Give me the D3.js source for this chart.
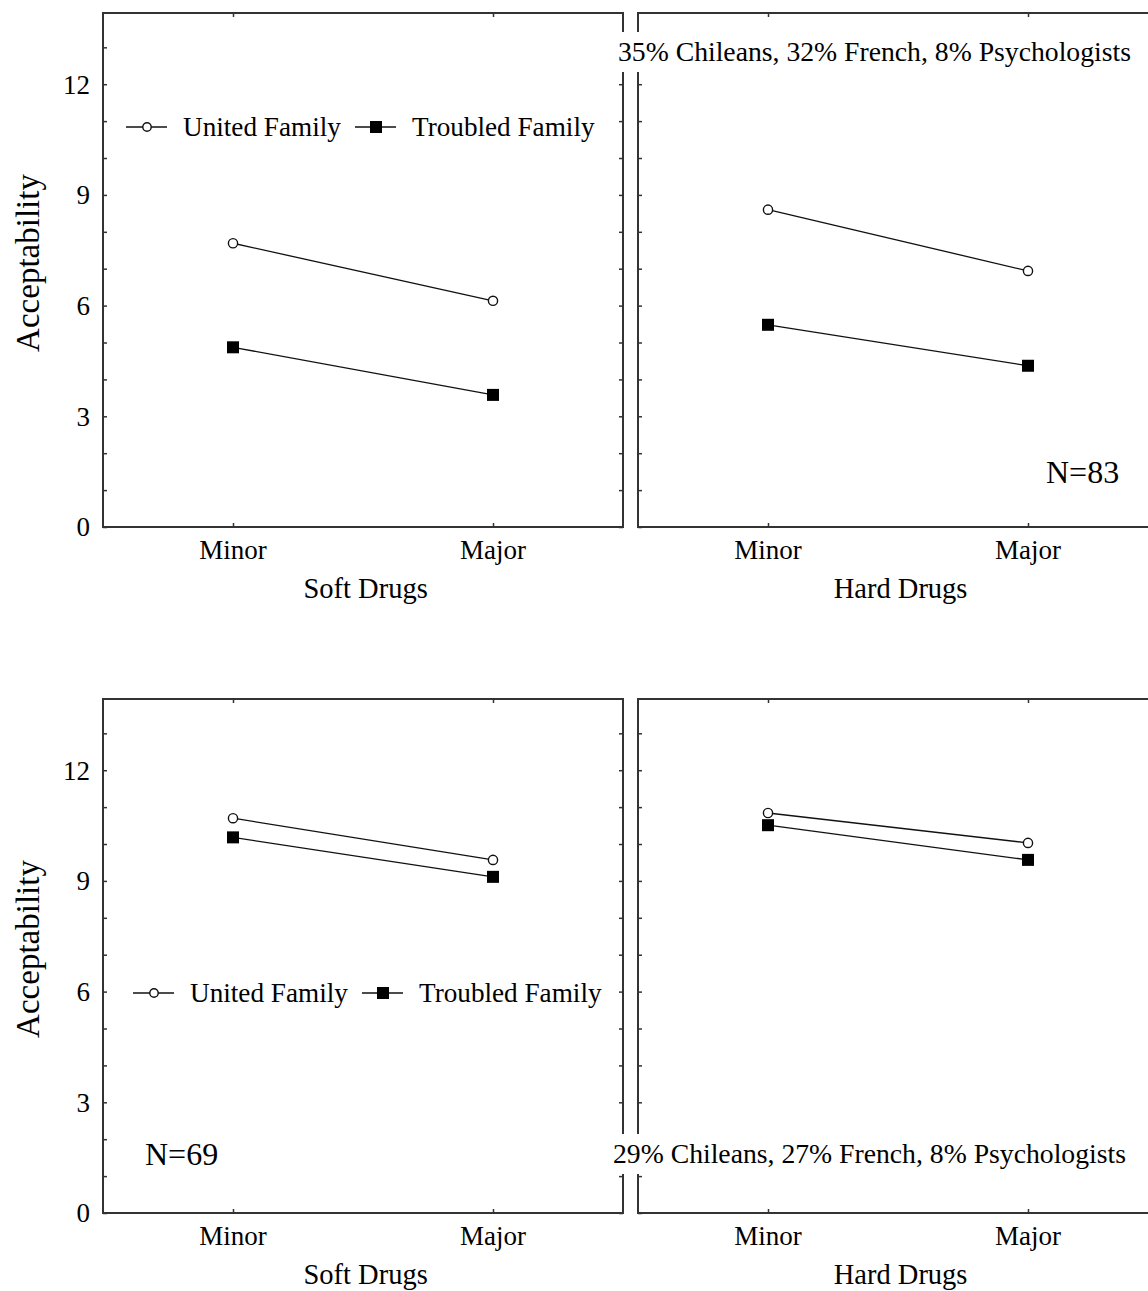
<!DOCTYPE html>
<html>
<head>
<meta charset="utf-8">
<script src="https://cdn.jsdelivr.net/npm/d3@7"></script>
<style>
  body { margin: 0; background: #fff; }
  text { font-family: "Liberation Serif", "Times New Roman", serif; fill: #000; }
</style>
</head>
<body>
<div class="chart"></div>
<script>
// data
const levels = ["Minor", "Major"];
const drugTypes = ["Soft Drugs", "Hard Drugs"];
const seriesNames = ["United Family", "Troubled Family"];
const yTicks = [0, 3, 6, 9, 12];
const yMinorTicks = [1, 2, 4, 5, 7, 8, 10, 11, 13];

// [soft, hard] per row
const unitedTop = [[7.69, 6.13], [8.60, 6.94]];
const troubledTop = [[4.87, 3.58], [5.48, 4.37]];
const unitedBottom = [[10.70, 9.57], [10.84, 10.03]];
const troubledBottom = [[10.18, 9.11], [10.51, 9.57]];

const sampleSizes = ["N=83", "N=69"];
const compositions = ["35% Chileans, 32% French, 8% Psychologists",
                      "29% Chileans, 27% French, 8% Psychologists"];

// layout
const width = 1148, height = 1291;
const panelW = 520;
const panelX = [103, 638];
const rowTop = [13, 699], rowBottom = [527, 1213];
const frameColor = "#333";

let svg = d3.select(".chart")
  .append("svg")
    .attr("width", width)
    .attr("height", height);

function drawRow(r, united, troubled) {
  let y = d3.scaleLinear()
    .domain([0, 13.93])
    .range([rowBottom[r], rowTop[r]]);

  drugTypes.forEach(function(dt, p) {
    let x = d3.scalePoint()
      .domain(levels)
      .range([panelX[p], panelX[p] + panelW])
      .padding(0.5);

    let g = svg.append("g").attr("class", "panel");

    // frame
    g.append("rect")
      .attr("x", panelX[p])
      .attr("y", rowTop[r])
      .attr("width", panelW)
      .attr("height", rowBottom[r] - rowTop[r])
      .attr("fill", "none")
      .attr("stroke", frameColor)
      .attr("stroke-width", 2);

    // inward ticks, all 4 sides
    let left = g.append("g")
      .attr("transform", "translate(" + panelX[p] + ",0)")
      .call(d3.axisRight(y).tickValues(yTicks.concat(yMinorTicks)).tickSize(4).tickFormat(""));
    let right = g.append("g")
      .attr("transform", "translate(" + (panelX[p] + panelW) + ",0)")
      .call(d3.axisLeft(y).tickValues(yTicks.concat(yMinorTicks)).tickSize(4).tickFormat(""));
    let bottom = g.append("g")
      .attr("transform", "translate(0," + rowBottom[r] + ")")
      .call(d3.axisTop(x).tickSize(4).tickFormat(""));
    let top = g.append("g")
      .attr("transform", "translate(0," + rowTop[r] + ")")
      .call(d3.axisBottom(x).tickSize(4).tickFormat(""));
    [left, right, bottom, top].forEach(function(a) {
      a.select(".domain").remove();
      a.selectAll("line").attr("stroke", frameColor).attr("stroke-width", 1.5);
    });

    // y tick labels only on left panel
    if (p == 0) {
      g.selectAll(".ylab")
        .data(yTicks)
        .enter().append("text")
          .attr("x", panelX[p] - 13)
          .attr("y", d => y(d))
          .attr("dy", "0.35em")
          .attr("text-anchor", "end")
          .style("font-size", "27px")
          .text(d => d);

      g.append("text")
        .attr("transform", "translate(39," + ((rowTop[r] + rowBottom[r]) / 2 - 7) + ") rotate(-90)")
        .attr("text-anchor", "middle")
        .style("font-size", "33px")
        .text("Acceptability");
    }

    // x labels
    g.selectAll(".xlab")
      .data(levels)
      .enter().append("text")
        .attr("x", d => x(d))
        .attr("y", rowBottom[r] + 32)
        .attr("text-anchor", "middle")
        .style("font-size", "27px")
        .text(d => d);

    g.append("text")
      .attr("x", panelX[p] + panelW * 0.505)
      .attr("y", rowBottom[r] + 71)
      .attr("text-anchor", "middle")
      .style("font-size", "28.5px")
      .text(dt);

    // lines + markers
    let line = d3.line()
      .x((d, i) => x(levels[i]))
      .y(d => y(d));

    [united[p], troubled[p]].forEach(function(vals, s) {
      g.append("path")
        .datum(vals)
        .attr("fill", "none")
        .attr("stroke", "#111")
        .attr("stroke-width", 1.3)
        .attr("d", line);

      if (s == 0) {
        g.selectAll(".pt-u")
          .data(vals)
          .enter().append("circle")
            .attr("cx", (d, i) => x(levels[i]))
            .attr("cy", d => y(d))
            .attr("r", 4.6)
            .attr("fill", "#fff")
            .attr("stroke", "#111")
            .attr("stroke-width", 1.4);
      } else {
        g.selectAll(".pt-t")
          .data(vals)
          .enter().append("rect")
            .attr("x", (d, i) => x(levels[i]) - 6)
            .attr("y", d => y(d) - 6)
            .attr("width", 12)
            .attr("height", 12)
            .attr("fill", "#000");
      }
    });
  });
}

drawRow(0, unitedTop, troubledTop);
drawRow(1, unitedBottom, troubledBottom);

// legends
function drawLegend(x0, baseline) {
  let g = svg.append("g").attr("class", "legend");
  let cy = baseline - 9;
  let offs = [0, 229];
  seriesNames.forEach(function(name, s) {
    let lx = x0 + offs[s];
    g.append("line")
      .attr("x1", lx).attr("x2", lx + 41)
      .attr("y1", cy).attr("y2", cy)
      .attr("stroke", "#111")
      .attr("stroke-width", 1.3);
    if (s == 0) {
      g.append("circle")
        .attr("cx", lx + 21).attr("cy", cy).attr("r", 4.2)
        .attr("fill", "#fff").attr("stroke", "#111").attr("stroke-width", 1.4);
    } else {
      g.append("rect")
        .attr("x", lx + 15).attr("y", cy - 6)
        .attr("width", 12).attr("height", 12)
        .attr("fill", "#000");
    }
    g.append("text")
      .attr("x", lx + 57)
      .attr("y", baseline)
      .style("font-size", "27.2px")
      .text(name);
  });
}
drawLegend(126, 136);
drawLegend(133, 1002);

// sample sizes
svg.append("text").attr("x", 1046).attr("y", 483).style("font-size", "32px").text(sampleSizes[0]);
svg.append("text").attr("x", 145).attr("y", 1165).style("font-size", "32px").text(sampleSizes[1]);

// composition notes with white box over frames
[[618, 61], [613, 1163]].forEach(function(pos, i) {
  let g = svg.append("g");
  let bg = g.append("rect").attr("fill", "#fff");
  let t = g.append("text")
    .attr("x", pos[0])
    .attr("y", pos[1])
    .style("font-size", "27.7px")
    .text(compositions[i]);
  let bb = t.node().getBBox();
  bg.attr("x", bb.x - 2)
    .attr("y", pos[1] - 29)
    .attr("width", bb.width + 4)
    .attr("height", 40);
});
</script>
</body>
</html>
